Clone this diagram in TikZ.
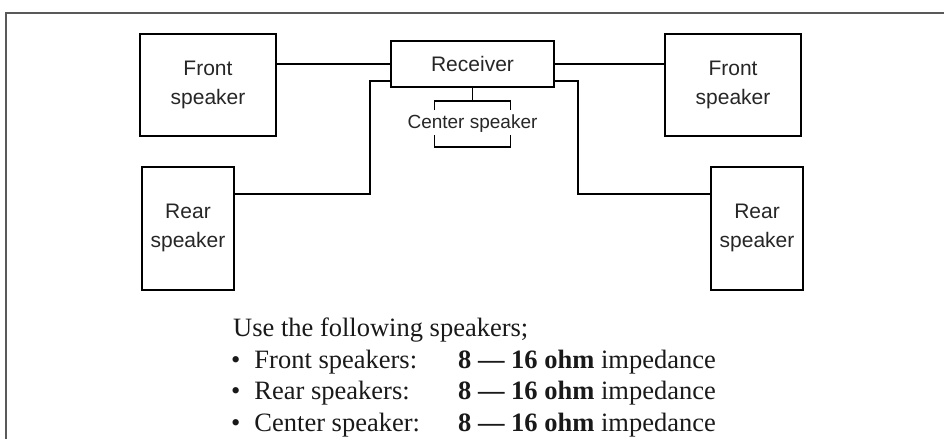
\documentclass[tikz,border=0pt]{standalone}
\usepackage{fontspec}
\setmainfont{Liberation Serif}
\newfontfamily\boxfont{Liberation Sans}
\usetikzlibrary{positioning}

\begin{document}
\begin{tikzpicture}[x=1pt,y=-1pt]
        \tikzstyle{speaker} = [rectangle, draw=black, line width=2pt, align=center, text=black!85, font=\boxfont\fontsize{21}{29}\selectfont];
        \tikzstyle{wire} = [line width=1.6pt];
        \tikzstyle{note} = [anchor=base west, inner sep=0pt, text=black!90, font=\fontsize{26.5}{31.7}\selectfont];

        \useasboundingbox (0,0) rectangle (944,439);
        \draw[gray!70!black, line width=1.3pt] (6,439) -- (6,13) -- (944,13);

        \node(receiver) [speaker, minimum width=163, minimum height=46] at (472.5,64) {Receiver};
        \node(frontleft) [speaker, minimum width=136, minimum height=102] at (208,85) {Front\\speaker};
        \node(frontright) [speaker, minimum width=136, minimum height=102] at (733,85) {Front\\speaker};
        \node(rearleft) [speaker, minimum width=92, minimum height=123] at (188,228) {Rear\\speaker};
        \node(rearright) [speaker, minimum width=92, minimum height=123] at (757,228) {Rear\\speaker};
        \node(centerspk) [text=black!85, font=\boxfont\fontsize{19}{23}\selectfont] at (472.5,124) {Center speaker};

        \coordinate(centertop) at (472.5,101);
        \coordinate(leftbend) at (370,194);
        \coordinate(rightbend) at (578,194);

        \draw[wire] (receiver.west) -- (receiver.west -| frontleft.east);
        \draw[wire] (receiver.east) -- (receiver.east -| frontright.west);
        \draw[wire] ([yshift=7pt]receiver.south west) -| (leftbend) -- (leftbend -| rearleft.east);
        \draw[wire] ([yshift=7pt]receiver.south east) -| (rightbend) -- (rightbend -| rearright.west);
        \draw[wire] (receiver) -- (centertop);
        \draw[wire] (centertop) ++(-38,9) -- ++(0,-9) -- ++(76,0) -- ++(0,9);
        \draw[wire] (centertop) ++(-38,34) -- ++(0,12) -- ++(76,0) -- ++(0,-12);

        \node(intro) [note] at (233,336) {Use the following speakers;};
        \node(frontlbl) [note] at (231,368) {\textbullet\hspace{14pt}Front speakers:};
        \node(frontval) [note] at (458,368) {\textbf{8 --- 16 ohm} impedance};
        \node(rearlbl) [note] at (231,399) {\textbullet\hspace{14pt}Rear speakers:};
        \node(rearval) [note] at (458,399) {\textbf{8 --- 16 ohm} impedance};
        \node(centerlbl) [note] at (231,431) {\textbullet\hspace{14pt}Center speaker:};
        \node(centerval) [note] at (458,431) {\textbf{8 --- 16 ohm} impedance};

    \end{tikzpicture}
\end{document}
